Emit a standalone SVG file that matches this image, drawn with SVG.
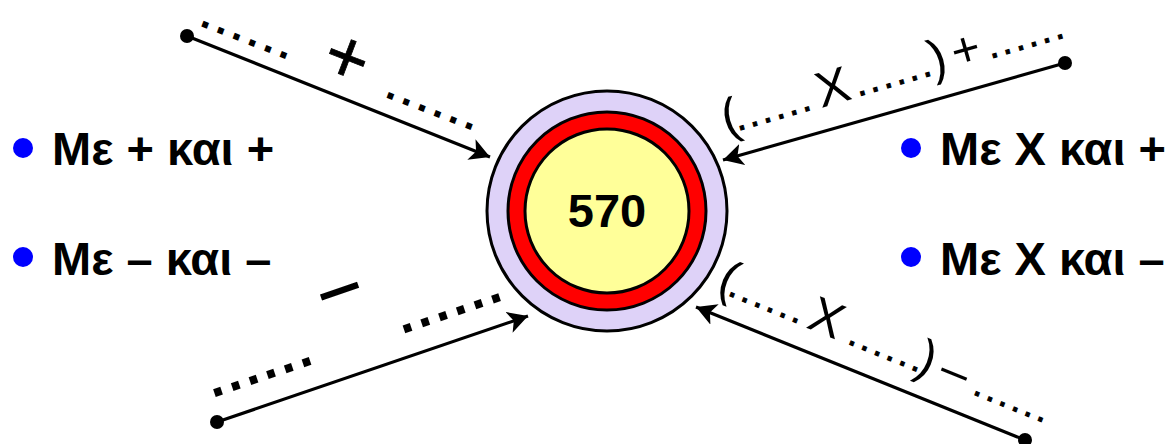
<svg xmlns="http://www.w3.org/2000/svg" width="1173" height="444" viewBox="0 0 1173 444">
  <style>
    .lbl { font-family: "Liberation Sans", Arial, sans-serif; font-weight: bold; font-size: 47px; fill: #000; }
    .dots { font-family: "Liberation Sans", Arial, sans-serif; fill: #000; stroke: #000; }
    .d-tl { font-size: 28px; letter-spacing: 9.02px; stroke-width: 3.2; }
    .d-bl { font-size: 48px; letter-spacing: 5.36px; stroke-width: 3; }
    .d-r { font-size: 36px; letter-spacing: 3.6px; stroke-width: 1; }
    .sym { font-family: "Liberation Sans", Arial, sans-serif; fill: #000; text-anchor: middle; }
    .conn { stroke: #000; stroke-width: 3.2; fill: none; marker-end: url(#arrow); }
    .bullet { fill: #0000ff; }
  </style>
  <defs>
    <marker id="arrow" markerUnits="userSpaceOnUse" markerWidth="24" markerHeight="24" refX="20" refY="11" orient="auto">
      <path d="M0,0 L20,11 L0,22 L5,11 z" fill="#000"/>
    </marker>
  </defs>
  <rect width="1173" height="444" fill="#fff"/>

  <g id="center-node">
    <circle cx="607" cy="211" r="120" fill="#ded2f8" stroke="#000" stroke-width="3"/>
    <circle cx="607" cy="211" r="99" fill="#ff0000" stroke="#000" stroke-width="3"/>
    <circle cx="607" cy="211" r="82" fill="#ffff99" stroke="#000" stroke-width="3"/>
    <text x="607" y="227" class="lbl" text-anchor="middle">570</text>
  </g>

  <g id="connectors">
    <line x1="187" y1="36" x2="490" y2="157" class="conn"/>
    <circle cx="187" cy="36" r="7"/>
    <line x1="1065" y1="63" x2="723" y2="160" class="conn"/>
    <circle cx="1065" cy="63" r="7"/>
    <line x1="217" y1="422" x2="528" y2="316" class="conn"/>
    <circle cx="217" cy="422" r="7"/>
    <line x1="1025" y1="440" x2="696" y2="307" class="conn"/>
    <circle cx="1025" cy="440" r="7"/>
  </g>

  <g id="label-top-left" transform="translate(205,25) rotate(21)">
    <text x="-3.9" y="1.3" class="dots d-tl">......</text>
    <text x="144.5" y="4" class="sym" font-size="74" stroke="#000" stroke-width="0.8">+</text>
    <text x="194.7" y="1.3" class="dots d-tl">......</text>
  </g>

  <g id="label-bottom-left">
    <g transform="translate(218,392) rotate(-18.6)">
      <text x="-6.7" y="2.5" class="dots d-bl">......</text>
      <text x="193.3" y="2.5" class="dots d-bl">......</text>
    </g>
    <g transform="translate(340,292) rotate(-19)">
      <text x="0" y="16" class="sym" font-size="67" stroke="#000" stroke-width="2">–</text>
    </g>
  </g>

  <g id="label-top-right" transform="translate(742,128) rotate(-16)">
    <text x="-8.5" y="2.5" class="sym" font-size="50">(</text>
    <text x="-5" y="1.8" class="dots d-r">......</text>
    <text x="98.4" y="2.5" class="sym" font-size="50">X</text>
    <text x="120.4" y="1.8" class="dots d-r">......</text>
    <text x="207" y="2.5" class="sym" font-size="50">)</text>
    <text x="236.4" y="2.5" class="sym" font-size="49">+</text>
    <text x="258" y="1.8" class="dots d-r">......</text>
  </g>

  <g id="label-bottom-right" transform="translate(732,295) rotate(22)">
    <text x="-8.6" y="2.5" class="sym" font-size="50">(</text>
    <text x="-5" y="1.8" class="dots d-r">......</text>
    <text x="96.5" y="2.5" class="sym" font-size="50">X</text>
    <text x="124.2" y="1.8" class="dots d-r">......</text>
    <text x="205.2" y="2.5" class="sym" font-size="50">)</text>
    <text x="235.6" y="2.5" class="sym" font-size="49">–</text>
    <text x="259.4" y="1.8" class="dots d-r">......</text>
  </g>

  <g id="bullet-left-1">
    <circle cx="23" cy="148" r="10" class="bullet"/>
    <text x="52" y="165" class="lbl">Με + και +</text>
  </g>
  <g id="bullet-left-2">
    <circle cx="23" cy="257" r="10" class="bullet"/>
    <text x="52" y="275" class="lbl">Με – και –</text>
  </g>
  <g id="bullet-right-1">
    <circle cx="911" cy="148" r="10" class="bullet"/>
    <text x="940" y="165" class="lbl">Με X και +</text>
  </g>
  <g id="bullet-right-2">
    <circle cx="911" cy="257" r="10" class="bullet"/>
    <text x="940" y="275" class="lbl">Με X και –</text>
  </g>
</svg>
